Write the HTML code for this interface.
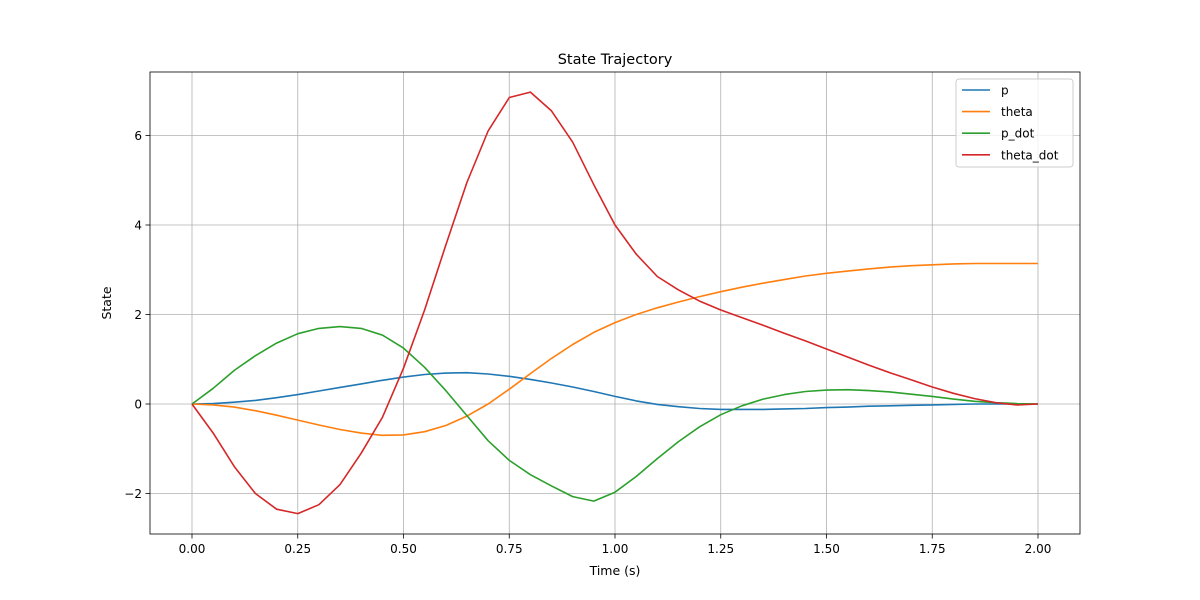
<!DOCTYPE html>
<html><head><meta charset="utf-8"><style>
body{margin:0;background:#fff;}
svg{display:block;font-family:"DejaVu Sans","Liberation Sans",sans-serif;}
</style></head><body>
<svg id="chart" width="1200" height="600" viewBox="0 0 1200 600">
<rect width="1200" height="600" fill="#fff"/>
<g id="grid"></g>
<g id="lines"></g>
<rect x="150" y="72" width="930" height="462" fill="none" stroke="#000" stroke-width="0.8"/>
<g id="ticks"></g>
<text x="615" y="64" text-anchor="middle" font-size="14.5">State Trajectory</text>
<text x="615" y="575" text-anchor="middle" font-size="12.5">Time (s)</text>
<text x="111" y="303" text-anchor="middle" font-size="12.5" transform="rotate(-90 111 303)">State</text>
<g id="legend"></g>
</svg>
<script>
const times = [0,0.05,0.1,0.15,0.2,0.25,0.3,0.35,0.4,0.45,0.5,0.55,0.6,0.65,0.7,0.75,0.8,0.85,0.9,0.95,1.0,1.05,1.1,1.15,1.2,1.25,1.3,1.35,1.4,1.45,1.5,1.55,1.6,1.65,1.7,1.75,1.8,1.85,1.9,1.95,2.0];
const pVals = [0,0.01,0.04,0.08,0.14,0.21,0.29,0.37,0.45,0.53,0.6,0.66,0.69,0.7,0.67,0.62,0.55,0.47,0.38,0.28,0.17,0.07,-0.01,-0.06,-0.1,-0.12,-0.12,-0.12,-0.11,-0.1,-0.08,-0.07,-0.05,-0.04,-0.03,-0.02,-0.01,0,0,0,0];
const thetaVals = [0,-0.02,-0.07,-0.15,-0.25,-0.36,-0.47,-0.57,-0.65,-0.7,-0.69,-0.62,-0.48,-0.27,0.0,0.33,0.68,1.02,1.33,1.6,1.82,2.0,2.15,2.28,2.4,2.51,2.61,2.7,2.78,2.86,2.92,2.97,3.02,3.06,3.09,3.11,3.13,3.14,3.14,3.14,3.14];
const pDotVals = [0,0.35,0.75,1.08,1.36,1.57,1.69,1.73,1.69,1.54,1.25,0.82,0.3,-0.26,-0.82,-1.26,-1.58,-1.83,-2.07,-2.17,-1.97,-1.62,-1.22,-0.84,-0.51,-0.24,-0.04,0.11,0.21,0.28,0.31,0.32,0.3,0.27,0.22,0.17,0.11,0.06,0.03,0.01,0];
const thetaDotVals = [0,-0.65,-1.4,-2.0,-2.35,-2.45,-2.25,-1.8,-1.1,-0.3,0.8,2.1,3.55,4.95,6.1,6.85,6.97,6.55,5.85,4.9,4.0,3.35,2.85,2.55,2.3,2.1,1.93,1.76,1.58,1.41,1.23,1.05,0.87,0.7,0.54,0.38,0.24,0.12,0.03,-0.02,0];
const seriesNames = ["p","theta","p_dot","theta_dot"];
const xTicks = [0,0.25,0.5,0.75,1.0,1.25,1.5,1.75,2.0];
const xTickLabels = ["0.00","0.25","0.50","0.75","1.00","1.25","1.50","1.75","2.00"];
const yTicks = [-2,0,2,4,6];
const yTickLabels = ["\u22122","0","2","4","6"];

const colors = ["#1f77b4","#ff7f0e","#2ca02c","#d62728"];
const NS = "http://www.w3.org/2000/svg";
const xs = v => 192 + v * 423;
const ys = v => 404 - v * 44.75;
function mk(tag, attrs, parent){const e=document.createElementNS(NS,tag);for(const k in attrs)e.setAttribute(k,attrs[k]);parent.appendChild(e);return e;}
const grid=document.getElementById('grid'), ticks=document.getElementById('ticks'), lines=document.getElementById('lines'), legend=document.getElementById('legend');
xTicks.forEach((t,i)=>{
  const g=mk('line',{x1:xs(t),x2:xs(t),y1:72,y2:534,stroke:'#b0b0b0','stroke-width':0.8},grid);
  
  
  const tk=mk('line',{x1:xs(t),x2:xs(t),y1:534,y2:538.5,stroke:'#000','stroke-width':0.8},ticks);
  
  
  const tx=mk('text',{x:xs(t),y:553,'text-anchor':'middle','font-size':12},ticks);
  tx.textContent=xTickLabels[i];
  
  
});
yTicks.forEach((t,i)=>{
  const g=mk('line',{x1:150,x2:1080,y1:ys(t),y2:ys(t),stroke:'#b0b0b0','stroke-width':0.8},grid);
  
  
  const tk=mk('line',{x1:145.5,x2:150,y1:ys(t),y2:ys(t),stroke:'#000','stroke-width':0.8},ticks);
  
  
  const tx=mk('text',{x:142,y:ys(t)+4.5,'text-anchor':'end','font-size':12},ticks);
  tx.textContent=yTickLabels[i];
  
  
});
[pVals,thetaVals,pDotVals,thetaDotVals].forEach((vals,si)=>{
  const d=vals.map((v,i)=>(i?'L':'M')+xs(times[i]).toFixed(1)+','+ys(v).toFixed(1)).join(' ');
  const p=mk('path',{d:d,fill:'none',stroke:colors[si],'stroke-width':1.6,'stroke-linejoin':'round'},lines);
  
  
});
const box=mk('rect',{x:956,y:79,width:117,height:88,rx:3,fill:'#fff','fill-opacity':0.8,stroke:'#ccc','stroke-width':1},legend);


seriesNames.forEach((n,i)=>{
  const y=90+i*21.6;
  const l=mk('line',{x1:962,x2:990,y1:y,y2:y,stroke:colors[i],'stroke-width':1.6},legend);
  
  
  const t=mk('text',{x:1001,y:y+4.5,'font-size':12},legend);
  t.textContent=n;
  
  
});
</script>
</body></html>
